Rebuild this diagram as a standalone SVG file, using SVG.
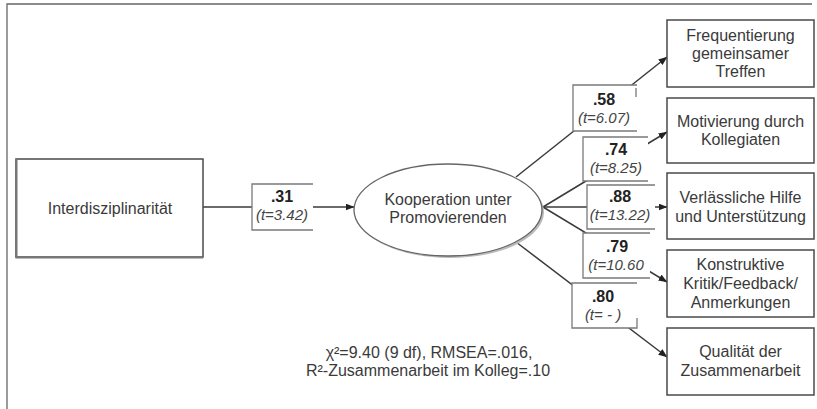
<svg xmlns="http://www.w3.org/2000/svg" width="817" height="409" viewBox="0 0 817 409">
<defs>
<marker id="arr" markerWidth="9" markerHeight="7" refX="8.5" refY="3.5" orient="auto" markerUnits="userSpaceOnUse">
<path d="M0,0 L9,3.5 L0,7 Z" fill="#222"/>
</marker>
</defs>
<style>
text{font-family:"Liberation Sans",Arial,sans-serif;fill:#3a3a3a;text-anchor:middle}
.n{font-size:16px}
.c{stroke:#3a3a3a;stroke-width:1.5;fill:none}
.box{fill:#fff;stroke:#4a4a4a;stroke-width:1.5}
.lbl{fill:#fff;stroke:none}
.lb{fill:none;stroke:#7a7a7a;stroke-width:1.3}
.v{font-size:16px;font-weight:bold;fill:#222}
.t{font-size:15px;font-style:italic;fill:#444}
.frame{stroke:#666;stroke-width:1.3;fill:none}
</style>
<rect width="817" height="409" fill="#fff"/>
<path class="frame" d="M7,409 V4 H812"/>

<g id="connectors">
<path class="c" d="M203,207 L354,207" marker-end="url(#arr)"/>
<path class="c" d="M516,177 L667,57" marker-end="url(#arr)"/>
<path class="c" d="M543,207 L667,132" marker-end="url(#arr)"/>
<path class="c" d="M543,207 L667,207" marker-end="url(#arr)"/>
<path class="c" d="M543,207 L667,282" marker-end="url(#arr)"/>
<path class="c" d="M516,242 L667,357" marker-end="url(#arr)"/>
</g>

<g id="labels">
<g id="l031">
<rect class="lbl" x="252" y="184" width="61" height="46"/>
<path class="lb" d="M313,184 H252 V230 H313"/>
<text class="v" x="282" y="202">.31</text>
<text class="t" x="282" y="220">(t=3.42)</text>
</g>
<g id="l058">
<rect class="lbl" x="573" y="85" width="64" height="46"/>
<path class="lb" d="M637,85 H573 V131 H637 M636,88 V97"/>
<text class="v" x="604" y="105">.58</text>
<text class="t" x="604" y="123">(t=6.07)</text>
</g>
<g id="l074">
<rect class="lbl" x="583" y="137" width="65" height="44"/>
<path class="lb" d="M648,137 H583 V181 H648"/>
<text class="v" x="616" y="155">.74</text>
<text class="t" x="616" y="173">(t=8.25)</text>
</g>
<g id="l088">
<rect class="lbl" x="587" y="185" width="68" height="44"/>
<path class="lb" d="M655,185 H587 V229 H655"/>
<text class="v" x="620" y="202">.88</text>
<text class="t" x="620" y="220">(t=13.22)</text>
</g>
<g id="l079">
<rect class="lbl" x="583" y="233" width="67" height="45"/>
<path class="lb" d="M650,233 H583 V278 H650"/>
<text class="v" x="617" y="252">.79</text>
<text class="t" x="616" y="270">(t=10.60</text>
</g>
<g id="l080">
<rect class="lbl" x="572" y="283" width="65" height="45"/>
<path class="lb" d="M637,283 H572 V328 H637 V318"/>
<text class="v" x="603" y="302">.80</text>
<text class="t" x="603" y="320">(t= - )</text>
</g>
</g>

<g id="interdisziplinaritaet">
<rect class="box" x="16" y="159" width="187" height="98"/>
<path d="M16.5,159 V257.5 H203" stroke="#777" stroke-width="2" fill="none"/>
<text class="n" x="110" y="214">Interdisziplinarität</text>
</g>

<g id="kooperation">
<ellipse cx="450" cy="212" rx="94" ry="46" fill="#bbb"/>
<ellipse cx="448" cy="210" rx="94" ry="46" fill="#fff" stroke="#666" stroke-width="1.3"/>
<text class="n" x="448" y="205">Kooperation unter</text>
<text class="n" x="448" y="223">Promovierenden</text>
</g>

<g id="frequentierung">
<rect class="box" x="667" y="20" width="147" height="67"/>
<text class="n" x="740.5" y="41">Frequentierung</text>
<text class="n" x="740.5" y="59">gemeinsamer</text>
<text class="n" x="740.5" y="77">Treffen</text>
</g>

<g id="motivierung">
<rect class="box" x="667" y="98" width="147" height="65"/>
<text class="n" x="740.5" y="127">Motivierung durch</text>
<text class="n" x="740.5" y="145">Kollegiaten</text>
</g>

<g id="hilfe">
<rect class="box" x="667" y="173" width="147" height="66"/>
<text class="n" x="740.5" y="203">Verlässliche Hilfe</text>
<text class="n" x="740.5" y="222">und Unterstützung</text>
</g>

<g id="kritik">
<rect class="box" x="667" y="250" width="147" height="67"/>
<text class="n" x="740.5" y="270">Konstruktive</text>
<text class="n" x="740.5" y="289">Kritik/Feedback/</text>
<text class="n" x="740.5" y="308">Anmerkungen</text>
</g>

<g id="qualitaet">
<rect class="box" x="667" y="328" width="147" height="67"/>
<text class="n" x="740.5" y="357">Qualität der</text>
<text class="n" x="740.5" y="376">Zusammenarbeit</text>
</g>

<g id="fit">
<text class="n" x="429" y="358">χ²=9.40 (9 df), RMSEA=.016,</text>
<text class="n" x="428" y="376">R²-Zusammenarbeit im Kolleg=.10</text>
</g>
</svg>
